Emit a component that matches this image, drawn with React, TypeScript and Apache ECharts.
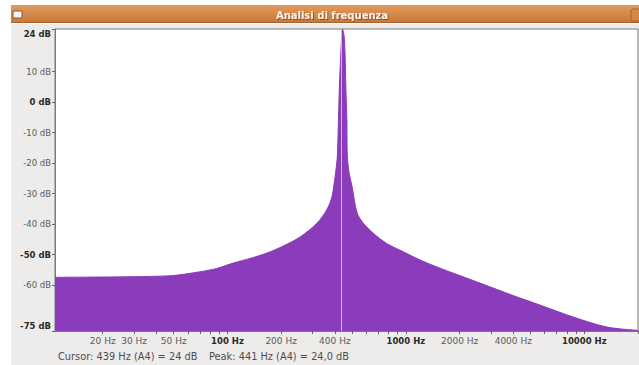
import React, { useEffect, useRef } from "react";
import * as echarts from "echarts";

// Spectrum (frequency in Hz, level in dB)
const freqs = [
  10.8, 20, 37, 50, 70, 87, 108, 134, 167, 206, 255, 318, 360, 385, 401, 412,
  416, 419, 424, 432, 437, 441, 450, 456, 461, 467, 469, 480, 500, 533, 578,
  655, 780, 928, 1200, 1554, 2000, 2604, 4000, 5647, 8644, 13405, 20000,
];
const levels = [
  -57.4, -57.3, -57.1, -56.8, -55.6, -54.5, -52.7, -51.2, -49.4, -47.1, -44.2,
  -39.6, -35.3, -31.0, -24.4, -18.5, -12.4, -5.8, 5.0, 16.1, 22.0, 24.0, 22.0,
  16.1, 5.0, -5.8, -16.7, -23.0, -27.8, -36.3, -39.7, -42.9, -46.3, -48.5,
  -51.7, -54.4, -56.8, -59.3, -63.4, -66.5, -70.4, -73.7, -74.8,
];

const xLabelFreqs = [20, 30, 50, 100, 200, 400, 1000, 2000, 4000, 10000];
const xBoldFreqs = [100, 1000, 10000];
const xTickFreqs = [
  20, 30, 40, 50, 60, 70, 80, 90, 100, 200, 300, 400, 500, 600, 700, 800, 900,
  1000, 2000, 3000, 4000, 5000, 6000, 7000, 8000, 9000, 10000, 20000,
];
const yLabels = [24, 10, 0, -10, -20, -30, -40, -50, -60, -75];
const yBold = [24, 0, -50, -75];

const freqMin = 10.8;
const freqMax = 20000;
const dbMin = -75;
const dbMax = 24;

const cursorFreq = 439;
const cursorDb = 24;
const peakFreq = 441;
const peakDb = "24,0";
const titleText = "Analisi di frequenza";

const FONT = "DejaVu Sans";

export default function App() {
  const ref = useRef<HTMLDivElement>(null);

  useEffect(() => {
    if (!ref.current) return;
    const chart = echarts.init(ref.current, null, { renderer: "svg" });
    const lg = (v: number) => Math.log10(v);
    const option: any = {
      animation: false,
      textStyle: { fontFamily: FONT },
      grid: {
        left: 55,
        top: 29,
        width: 583,
        height: 302,
        show: true,
        backgroundColor: "#ffffff",
        borderColor: "#7a7a7a",
        borderWidth: 1,
      },
      xAxis: {
        type: "value",
        min: lg(freqMin),
        max: lg(freqMax),
        axisLine: { show: true, onZero: false, lineStyle: { color: "#7a7a7a" } },
        axisTick: {
          show: true,
          customValues: xTickFreqs.map(lg),
          length: 3,
          lineStyle: { color: "#666" },
        },
        splitLine: { show: false },
        axisLabel: {
          customValues: xLabelFreqs.map(lg),
          margin: 5,
          formatter: (v: number) => {
            const f = Math.round(Math.pow(10, v));
            return xBoldFreqs.indexOf(f) >= 0 ? `{b|${f} Hz}` : `{n|${f} Hz}`;
          },
          rich: {
            n: { fontFamily: FONT, fontSize: 9, color: "#5a5a5a" },
            b: { fontFamily: FONT, fontSize: 8.5, fontWeight: "bold", color: "#2a2a2a" },
          },
        },
      },
      yAxis: {
        type: "value",
        min: dbMin,
        max: dbMax,
        axisLine: { show: true, onZero: false, lineStyle: { color: "#7a7a7a" } },
        axisTick: {
          show: true,
          customValues: yLabels,
          length: 3,
          lineStyle: { color: "#666" },
        },
        splitLine: { show: false },
        axisLabel: {
          customValues: yLabels,
          margin: 4,
          formatter: (v: number) => {
            const d = Math.round(v);
            const t = `${d} dB`;
            if (d === dbMax) return `{bt|${t}}`;
            if (d === dbMin) return `{bb|${t}}`;
            return yBold.indexOf(d) >= 0 ? `{b|${t}}` : `{n|${t}}`;
          },
          rich: {
            n: { fontFamily: FONT, fontSize: 8.5, color: "#5a5a5a" },
            b: { fontFamily: FONT, fontSize: 8.5, fontWeight: "bold", color: "#2a2a2a" },
            bt: {
              fontFamily: FONT,
              fontSize: 8.5,
              fontWeight: "bold",
              color: "#2a2a2a",
              padding: [10, 0, 0, 0],
            },
            bb: {
              fontFamily: FONT,
              fontSize: 8.5,
              fontWeight: "bold",
              color: "#2a2a2a",
              padding: [0, 0, 10, 0],
            },
          },
        },
      },
      series: [
        {
          type: "line",
          data: freqs.map((f, i) => [lg(f), levels[i]]),
          symbol: "none",
          smooth: 0.3,
          lineStyle: { width: 1, color: "#8a3cba" },
          areaStyle: { color: "#8a3cba", opacity: 1, origin: "start" },
          markLine: {
            silent: true,
            symbol: ["none", "none"],
            label: { show: false },
            lineStyle: { color: "#c2c2c2", width: 1, type: "solid" },
            data: [{ xAxis: lg(cursorFreq) }],
          },
        },
      ],
      graphic: [
        {
          type: "rect",
          shape: { x: 13, y: 11, width: 9, height: 7 },
          style: { fill: "#f4f4f4", stroke: "#7a5a3a", lineWidth: 1 },
        },
        {
          type: "rect",
          shape: { x: 631, y: 9, width: 10, height: 12, r: 2 },
          style: { fill: "#d38843", stroke: "#a8642a", lineWidth: 1 },
        },
        {
          type: "text",
          x: 332,
          y: 15,
          style: {
            text: titleText,
            fontFamily: FONT,
            fontSize: 10,
            fontWeight: "bold",
            fill: "#fbefe3",
            align: "center",
            verticalAlign: "middle",
            textShadowColor: "rgba(90,40,0,0.6)",
            textShadowBlur: 1,
            textShadowOffsetX: 1,
            textShadowOffsetY: 1,
          },
        },
        {
          type: "text",
          x: 58,
          y: 356,
          style: {
            text: `Cursor: ${cursorFreq} Hz (A4) = ${cursorDb} dB`,
            fontFamily: FONT,
            fontSize: 9.8,
            fill: "#4e4e4e",
            verticalAlign: "middle",
          },
        },
        {
          type: "text",
          x: 209,
          y: 356,
          style: {
            text: `Peak: ${peakFreq} Hz (A4) = ${peakDb} dB`,
            fontFamily: FONT,
            fontSize: 9.8,
            fill: "#4e4e4e",
            verticalAlign: "middle",
          },
        },
      ],
    };
    chart.setOption(option);
    return () => chart.dispose();
  }, []);

  return (
    <div
      style={{
        position: "fixed",
        left: 0,
        top: 0,
        width: 639,
        height: 365,
        background: "#ffffff",
        overflow: "hidden",
      }}
    >
      <div
        style={{
          position: "absolute",
          left: 11,
          top: 5,
          width: 628,
          height: 17,
          background: "linear-gradient(#e29a5c, #c97a3a)",
          borderBottom: "1px solid #a9622a",
        }}
      />
      <div
        style={{
          position: "absolute",
          left: 11,
          top: 23,
          width: 628,
          height: 342,
          background: "#edeceb",
          borderTop: "1px solid #f8f8f8",
        }}
      />
      <div
        ref={ref}
        style={{ position: "absolute", left: 0, top: 0, width: 639, height: 365 }}
      />
    </div>
  );
}
